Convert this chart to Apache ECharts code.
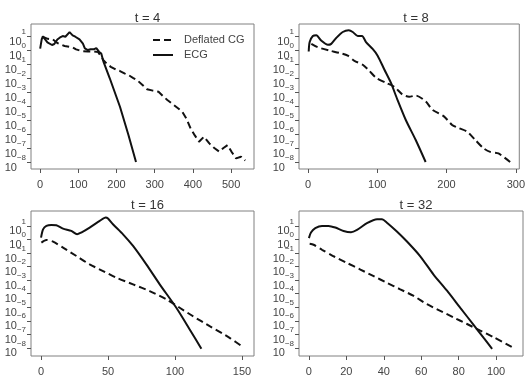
<!DOCTYPE html>
<html>
<head>
<meta charset="utf-8">
<script src="https://cdn.jsdelivr.net/npm/echarts@6/dist/echarts.min.js"></script>
<style>
  html, body { margin: 0; padding: 0; background: #fff; }
  #main { width: 528px; height: 392px; }
</style>
</head>
<body>
<div id="main"></div>
<script>
// residual curves, y values are log10 of the residual norm
var titles = ['t = 4', 't = 8', 't = 16', 't = 32'];
var seriesNames = ['Deflated CG', 'ECG'];
var xTicks = [[0, 100, 200, 300, 400, 500], [0, 100, 200, 300], [0, 50, 100, 150], [0, 20, 40, 60, 80, 100]];
var yTicks = [-8, -7, -6, -5, -4, -3, -2, -1, 0, 1];

// t = 4
var it_dcg4 = [6, 11, 20, 33, 45, 64, 85, 94, 108, 125, 140, 152, 165, 175, 185, 200, 209, 222, 232, 244, 254, 268, 280, 295, 310, 322, 333, 350, 372, 383, 394, 405, 416, 429, 443, 456, 469, 480, 491, 502, 513, 526, 537];
var lg_dcg4 = [0.95, 0.83, 0.8, 0.76, 0.5, 0.29, 0.19, 0.05, -0.07, -0.1, -0.1, -0.15, -0.7, -1.0, -1.2, -1.43, -1.5, -1.68, -1.8, -2.0, -2.15, -2.5, -2.8, -2.9, -2.98, -3.3, -3.57, -3.93, -4.4, -4.9, -5.6, -6.1, -6.55, -6.19, -6.67, -7.0, -7.26, -7.0, -6.79, -7.3, -7.74, -7.62, -7.9];
var it_ecg4 = [0, 4, 7, 12, 19, 31, 37, 45, 52, 59, 66, 77, 85, 92, 103, 112, 117, 125, 132, 140, 147, 154, 160, 166, 182, 209, 231, 251];
var lg_ecg4 = [0.1, 0.76, 0.98, 0.9, 0.55, 0.36, 0.43, 0.75, 0.9, 1.0, 0.95, 1.28, 1.05, 0.95, 0.76, 0.45, 0.12, 0.0, 0.05, 0.05, 0.14, -0.12, -0.25, -0.85, -2.0, -4.05, -6.05, -8.0];

// t = 8
var it_dcg8 = [4.8, 14, 31, 45.5, 57.4, 67, 79, 88.6, 98, 112, 124.4, 136.4, 146, 155.5, 169.8, 179.4, 196.2, 208, 217.7, 229.6, 241.6, 253.6, 263, 275, 291.8];
var lg_dcg8 = [0.44, 0.2, -0.04, -0.21, -0.4, -0.77, -1.05, -1.49, -1.97, -2.33, -2.62, -3.18, -3.34, -3.25, -3.66, -4.26, -4.74, -5.35, -5.58, -5.83, -6.43, -7.03, -7.28, -7.39, -8.0];
var it_ecg8 = [1, 2.4, 7, 12, 19, 28.7, 33.5, 40.7, 50.2, 58.8, 64.6, 71.8, 78, 83.7, 93.3, 100.5, 110, 119.6, 129, 141, 155.5, 169.8];
var lg_ecg8 = [-0.11, 0.57, 1.0, 1.05, 0.68, 0.37, 0.44, 0.86, 1.29, 1.41, 1.29, 1.0, 1.0, 0.57, 0.08, -0.4, -1.37, -2.33, -3.54, -4.98, -6.43, -8.0];

// t = 16
var it_dcg16 = [0.25, 4, 9, 16.4, 26.4, 36.3, 46.3, 56.2, 68.7, 81.1, 93.5, 103.5, 113.4, 125.9, 140.8, 150.7];
var lg_dcg16 = [-0.23, -0.04, -0.16, -0.6, -1.22, -1.84, -2.33, -2.82, -3.31, -3.81, -4.42, -5.04, -5.66, -6.4, -7.26, -7.93];
var it_ecg16 = [0, 1.5, 4, 7.7, 11.4, 16.4, 22.6, 26.9, 30, 36.3, 43.8, 48.3, 50, 53.7, 61.2, 68.7, 78.6, 88.6, 101, 111, 119.7];
var lg_ecg16 = [0.14, 0.75, 1.0, 1.07, 1.05, 0.8, 0.63, 0.38, 0.51, 0.88, 1.37, 1.62, 1.54, 1.12, 0.38, -0.48, -1.84, -3.31, -5.04, -6.64, -8.07];

// t = 32
var it_dcg32 = [0.4, 2.5, 7, 13.2, 20.3, 27.5, 34.6, 41.7, 48.8, 56, 63.1, 70.2, 77.4, 84.5, 91.6, 98.8, 108.6];
var lg_dcg32 = [-0.32, -0.39, -0.76, -1.24, -1.73, -2.22, -2.71, -3.2, -3.68, -4.17, -4.78, -5.27, -5.76, -6.24, -6.73, -7.22, -7.95];
var it_ecg32 = [0, 1.1, 3.4, 7, 10.5, 14.1, 18.5, 22.5, 25.7, 31, 36.4, 39, 41.7, 47, 52.4, 59.5, 66.6, 73.8, 80.9, 88.1, 93.4, 97.9];
var lg_ecg32 = [0.1, 0.51, 0.83, 1.0, 1.0, 0.88, 0.63, 0.54, 0.71, 1.2, 1.49, 1.49, 1.24, 0.59, -0.15, -1.24, -2.59, -3.78, -5.05, -6.32, -7.27, -8.07];

var curves = [
    [[it_dcg4, lg_dcg4], [it_ecg4, lg_ecg4]],
    [[it_dcg8, lg_dcg8], [it_ecg8, lg_ecg8]],
    [[it_dcg16, lg_dcg16], [it_ecg16, lg_ecg16]],
    [[it_dcg32, lg_dcg32], [it_ecg32, lg_ecg32]]
];

var chart = echarts.init(document.getElementById('main'));

var grids = [
    {left: 31, top: 24, width: 223, height: 145},
    {left: 299, top: 24, width: 224, height: 145},
    {left: 31, top: 211, width: 223, height: 145},
    {left: 299, top: 211, width: 224, height: 145}
];
var xRange = [[-24, 560], [-13, 305], [-7.5, 159], [-5.3, 114.4]];
var yRange = [[-8.5, 1.86], [-8.5, 1.86], [-8.6, 2.1], [-8.6, 2.1]];
var frame = '#808080';
var tickColor = '#555555';
var txt = '#444';
var font = 'Liberation Sans';

function zip(xs, ys) {
    var out = [];
    for (var i = 0; i < xs.length; i++) out.push([xs[i], ys[i]]);
    return out;
}
function expText(v) {
    return v < 0 ? '\u2212' + (-v) : '' + v;
}

var opt = {
    animation: false,
    backgroundColor: '#fff',
    title: [],
    grid: [],
    xAxis: [],
    yAxis: [],
    series: [],
    // legend of the first panel, drawn by hand so the dash shows
    graphic: [
        {type: 'line', shape: {x1: 153, y1: 40, x2: 173, y2: 40},
         style: {stroke: '#111', lineWidth: 2, lineDash: [7, 4]}},
        {type: 'text', x: 184, y: 40,
         style: {text: seriesNames[0], fill: txt, font: '11px "Liberation Sans"', textVerticalAlign: 'middle'}},
        {type: 'line', shape: {x1: 153, y1: 55, x2: 173, y2: 55},
         style: {stroke: '#111', lineWidth: 2}},
        {type: 'text', x: 184, y: 55,
         style: {text: seriesNames[1], fill: txt, font: '11px "Liberation Sans"', textVerticalAlign: 'middle'}}
    ]
};

for (var k = 0; k < 4; k++) {
    var g = grids[k];
    opt.title.push({
        text: titles[k],
        left: g.left + g.width / 2,
        top: g.top - 17,
        textAlign: 'center',
        textStyle: {fontFamily: font, fontSize: 13, fontWeight: 'normal', color: '#333'}
    });
    opt.grid.push({
        left: g.left, top: g.top, width: g.width, height: g.height,
        show: true, borderColor: frame, borderWidth: 1, backgroundColor: 'transparent'
    });
    opt.xAxis.push({
        type: 'value', gridIndex: k, min: xRange[k][0], max: xRange[k][1],
        axisLine: {show: false, onZero: false},
        splitLine: {show: false},
        axisTick: {show: true, length: 4, customValues: xTicks[k], lineStyle: {color: tickColor, width: 1}},
        axisLabel: {customValues: xTicks[k], margin: 10, fontFamily: font, fontSize: 11, color: txt}
    });
    // main y axis: ticks and the "10" base of each label
    opt.yAxis.push({
        type: 'value', gridIndex: k, position: 'left', min: yRange[k][0], max: yRange[k][1],
        axisLine: {show: false, onZero: false},
        splitLine: {show: false},
        axisTick: {show: true, length: 4, customValues: yTicks, lineStyle: {color: tickColor, width: 1}},
        axisLabel: {
            customValues: yTicks, margin: 5, verticalAlign: 'top',
            formatter: function (v) { return '{b|10}{p|' + expText(v) + '}'; },
            rich: {
                b: {fontFamily: font, fontSize: 11, color: txt, lineHeight: 11},
                p: {fontFamily: font, fontSize: 8, color: 'rgba(0,0,0,0)', lineHeight: 11}
            }
        }
    });
    // second y axis on the same side, carries the raised exponents
    opt.yAxis.push({
        type: 'value', gridIndex: k, position: 'left', offset: 0, min: yRange[k][0], max: yRange[k][1],
        axisLine: {show: false, onZero: false},
        splitLine: {show: false},
        axisTick: {show: false},
        axisLabel: {
            customValues: yTicks, margin: 5, verticalAlign: 'bottom',
            formatter: function (v) { return '{p|10}{s|' + expText(v) + '}'; },
            rich: {
                p: {fontFamily: font, fontSize: 11, color: 'rgba(0,0,0,0)', lineHeight: 9},
                s: {fontFamily: font, fontSize: 8, color: txt, lineHeight: 9}
            }
        }
    });
    for (var j = 0; j < 2; j++) {
        opt.series.push({
            name: seriesNames[j],
            type: 'line',
            xAxisIndex: k,
            yAxisIndex: 2 * k,
            data: zip(curves[k][j][0], curves[k][j][1]),
            symbol: 'none',
            smooth: k === 0 ? false : 0.25,
            lineStyle: {color: '#111', width: 2, type: j === 0 ? [7, 4] : 'solid'},
            itemStyle: {color: '#111'}
        });
    }
}

chart.setOption(opt);
</script>
</body>
</html>
